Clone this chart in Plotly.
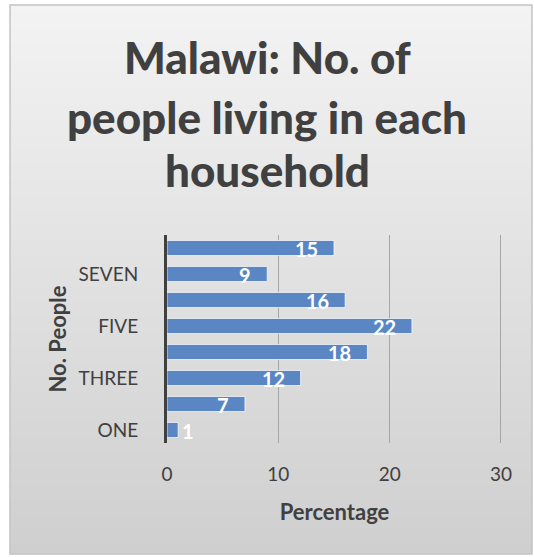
import base64
import struct
import zlib

import plotly.graph_objects as go

# Household size categories (bottom to top) and share of people (%)
categories = ["ONE", "TWO", "THREE", "FOUR", "FIVE", "SIX", "SEVEN", "EIGHT"]
percentages = [1, 7, 12, 18, 22, 16, 9, 15]
shown_tick_labels = ["ONE", "THREE", "FIVE", "SEVEN"]
x_ticks = [0, 10, 20, 30]
title_lines = ["Malawi: No. of", "people living in each", "household"]

W, H = 534, 557
FONT = "Lato, 'Open Sans', sans-serif"
TEXT = "#404040"
BAR = "#5b86c4"


def px_x(p):
    return p / W


def px_y(p):
    return 1 - p / H


def gradient_png(c_top, c_bottom, rows=256):
    """Tiny 1-pixel-wide grayscale PNG running from c_top to c_bottom."""
    raw = b"".join(
        b"\x00" + bytes([round(c_top + (c_bottom - c_top) * i / (rows - 1))])
        for i in range(rows)
    )

    def chunk(tag, data):
        return (struct.pack(">I", len(data)) + tag + data
                + struct.pack(">I", zlib.crc32(tag + data) & 0xFFFFFFFF))

    png = (b"\x89PNG\r\n\x1a\n"
           + chunk(b"IHDR", struct.pack(">IIBBBBB", 1, rows, 8, 0, 0, 0, 0))
           + chunk(b"IDAT", zlib.compress(raw))
           + chunk(b"IEND", b""))
    return "data:image/png;base64," + base64.b64encode(png).decode()


fig = go.Figure(
    go.Bar(
        x=percentages,
        y=categories,
        orientation="h",
        marker=dict(color=BAR, line=dict(color="rgba(255,255,255,0.7)", width=1)),
        width=0.58,
        hoverinfo="x+y",
    )
)

# value labels at the inner end of each bar (outside when the bar is too short)
for cat, val in zip(categories, percentages):
    inside = val >= 3
    fig.add_annotation(
        x=val, y=cat, xref="x", yref="y",
        text=f"<b>{val}</b>", showarrow=False,
        xanchor="right" if inside else "left",
        xshift=-14 if inside else 2,
        yshift=-1,
        font=dict(family=FONT, size=20, color="white"),
    )

# title, one line per annotation
title_y = [57, 117, 170]
for line, yy in zip(title_lines, title_y):
    fig.add_annotation(
        x=0.5, y=px_y(yy), xref="paper", yref="paper",
        text=line, showarrow=False,
        xanchor="center", yanchor="middle",
        font=dict(family=FONT, size=44, color=TEXT, weight=900),
    )

# chart area: vertical grey gradient with a light border
top, bottom, left, right = 5, 554, 10, 532
fig.add_layout_image(
    source=gradient_png(243, 207),
    xref="paper", yref="paper",
    x=px_x(left), y=px_y(top),
    sizex=px_x(right - left), sizey=(bottom - top) / H,
    sizing="stretch", xanchor="left", yanchor="top",
    layer="below",
)
fig.add_shape(
    type="rect", xref="paper", yref="paper",
    x0=px_x(left), x1=px_x(right), y0=px_y(bottom), y1=px_y(top),
    fillcolor="rgba(0,0,0,0)", line=dict(color="#c4c4c4", width=1.5), layer="below",
)

fig.update_layout(
    width=W, height=H,
    margin=dict(l=0, r=0, t=0, b=0),
    paper_bgcolor="white",
    plot_bgcolor="rgba(0,0,0,0)",
    showlegend=False,
    bargap=0.42,
    font=dict(family=FONT, color=TEXT),
    xaxis=dict(
        domain=[px_x(167), px_x(502.1)],
        range=[0, 30.1],
        tickvals=x_ticks,
        showgrid=True, gridcolor="#a6a6a6", gridwidth=1,
        zeroline=False, showline=False,
        ticks="", ticklabelstandoff=18,
        tickfont=dict(family=FONT, size=19, color=TEXT),
        title=dict(text="<b>Percentage</b>", standoff=20,
                   font=dict(family=FONT, size=22, color=TEXT)),
        automargin=False, fixedrange=True,
    ),
    yaxis=dict(
        domain=[px_y(443), px_y(235)],
        type="category",
        categoryorder="array", categoryarray=categories,
        range=[-0.5, 7.5],
        tickvals=shown_tick_labels,
        showgrid=False, zeroline=False,
        showline=True, linecolor="#404040", linewidth=3,
        ticks="", ticklabelstandoff=22,
        tickfont=dict(family=FONT, size=19, color=TEXT),
        title=dict(text="<b>No. People</b>", standoff=6,
                   font=dict(family=FONT, size=22, color=TEXT)),
        automargin=False, fixedrange=True,
    ),
)

fig.write_html("out.html")
